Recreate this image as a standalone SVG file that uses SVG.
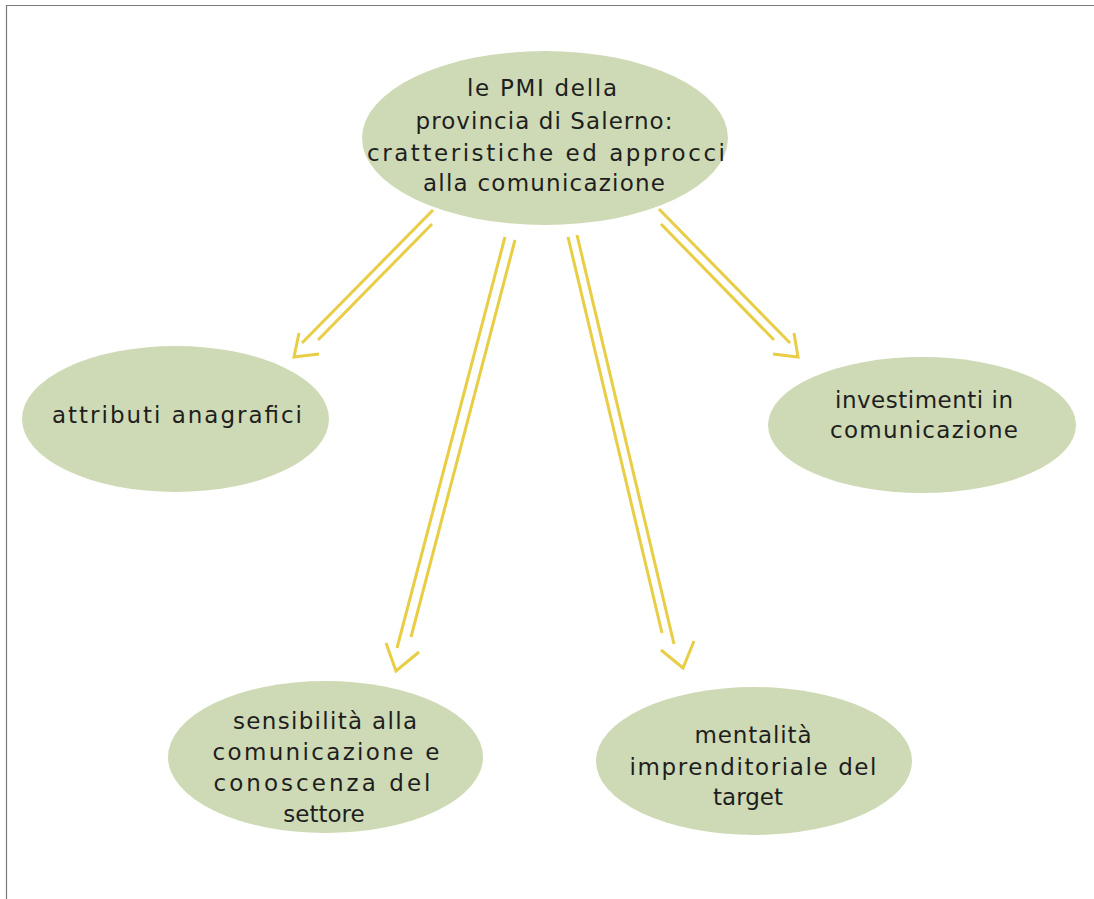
<svg xmlns="http://www.w3.org/2000/svg" width="1094" height="899" viewBox="0 0 1094 899">
<style>
.node{fill:#cedab5;}
.t{font-family:"DejaVu Sans","Liberation Sans",sans-serif;font-size:23px;fill:#1e1e1e;text-anchor:middle;}
.arr{stroke:#e8cd45;stroke-width:3;fill:none;stroke-linecap:butt;}
.frame{stroke:#7a7a7a;stroke-width:1.2;fill:none;}
</style>
<rect width="1094" height="899" fill="#ffffff"/>
<path class="frame" d="M6.5,899 V5.5 H1094"/>
<g id="connectors">
  <g id="arrow1">
    <line class="arr" x1="433" y1="210" x2="302" y2="343"/>
    <line class="arr" x1="432" y1="224" x2="318" y2="340"/>
    <polyline class="arr" points="299,333 294,357 319,354"/>
  </g>
  <g id="arrow2">
    <line class="arr" x1="505" y1="237" x2="397" y2="648"/>
    <line class="arr" x1="515" y1="240" x2="411" y2="637"/>
    <polyline class="arr" points="386,643 396,671 419,652"/>
  </g>
  <g id="arrow3">
    <line class="arr" x1="568" y1="237" x2="662" y2="633"/>
    <line class="arr" x1="577" y1="235" x2="674" y2="644"/>
    <polyline class="arr" points="661,650 683,668 694,641"/>
  </g>
  <g id="arrow4">
    <line class="arr" x1="659" y1="209" x2="790" y2="343"/>
    <line class="arr" x1="661" y1="224" x2="774" y2="340"/>
    <polyline class="arr" points="773,354 798,357 794,333"/>
  </g>
</g>
<g id="center">
  <ellipse class="node" cx="545" cy="138" rx="183" ry="87"/>
  <text class="t" x="542" y="96" textLength="150" lengthAdjust="spacing">le PMI della</text>
  <text class="t" x="544" y="129" textLength="257" lengthAdjust="spacing">provincia di Salerno:</text>
  <text class="t" x="546" y="161" textLength="358" lengthAdjust="spacing">cratteristiche ed approcci</text>
  <text class="t" x="544" y="191" textLength="242" lengthAdjust="spacing">alla comunicazione</text>
</g>
<g id="attributi">
  <ellipse class="node" cx="175.5" cy="419" rx="153.5" ry="73"/>
  <text class="t" x="177" y="423" textLength="250" lengthAdjust="spacing">attributi anagrafici</text>
</g>
<g id="investimenti">
  <ellipse class="node" cx="922" cy="425" rx="154" ry="68"/>
  <text class="t" x="924" y="408" textLength="178" lengthAdjust="spacing">investimenti in</text>
  <text class="t" x="924" y="438" textLength="188" lengthAdjust="spacing">comunicazione</text>
</g>
<g id="sensibilita">
  <ellipse class="node" cx="325.5" cy="757" rx="157.5" ry="76"/>
  <text class="t" x="325" y="729" textLength="184" lengthAdjust="spacing">sensibilità alla</text>
  <text class="t" x="326" y="760" textLength="227" lengthAdjust="spacing">comunicazione e</text>
  <text class="t" x="322" y="791" textLength="217" lengthAdjust="spacing">conoscenza del</text>
  <text class="t" x="324" y="822">settore</text>
</g>
<g id="mentalita">
  <ellipse class="node" cx="754" cy="761" rx="158" ry="74"/>
  <text class="t" x="753" y="743" textLength="117" lengthAdjust="spacing">mentalità</text>
  <text class="t" x="753" y="775" textLength="247" lengthAdjust="spacing">imprenditoriale del</text>
  <text class="t" x="748" y="805">target</text>
</g>
</svg>
